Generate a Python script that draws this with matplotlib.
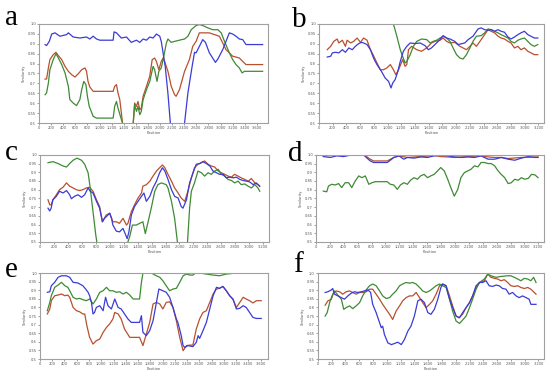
import numpy as np
import matplotlib
matplotlib.use("Agg")
import matplotlib.pyplot as plt
from matplotlib.ticker import FuncFormatter, MultipleLocator

# ---- panel a ----
a_blue_x = [100, 125, 170, 210, 265, 345, 455, 485, 565, 675, 785, 840, 895, 950, 1005, 1225, 1240, 1280, 1360, 1445,
            1525, 1610, 1665, 1720, 1775, 1830, 1885, 1940, 1995, 2020, 2050, 2085, 2130, 2170, 2185, 2375, 2405, 2460,
            2530, 2570, 2595, 2650, 2705, 2750, 2815, 2915, 2955, 3035, 3145, 3200, 3255, 3310, 3365, 3420, 3695]
a_blue_y = [0.896, 0.891, 0.912, 0.949, 0.955, 0.938, 0.946, 0.955, 0.934, 0.929, 0.934, 0.924, 0.938, 0.924, 0.918,
            0.918, 0.96, 0.955, 0.929, 0.934, 0.907, 0.918, 0.907, 0.924, 0.918, 0.934, 0.929, 0.949, 0.938, 0.912,
            0.854, 0.786, 0.65, 0.5, 0.45, 0.45, 0.5, 0.652, 0.786, 0.857, 0.854, 0.887, 0.921, 0.907, 0.854, 0.806,
            0.823, 0.87, 0.955, 0.949, 0.938, 0.924, 0.921, 0.896, 0.896]
a_red_x = [100, 125, 155, 180, 235, 280, 320, 375, 430, 485, 540, 595, 650, 705, 760, 785, 810, 840, 895, 950, 1225,
           1250, 1280, 1305, 1335, 1380, 1415, 1545, 1580, 1610, 1635, 1665, 1690, 1720, 1775, 1830, 1870, 1910, 1940,
           1980, 2020, 2050, 2075, 2130, 2185, 2240, 2265, 2320, 2405, 2485, 2540, 2595, 2650, 2705, 2815, 2870, 2980,
           3035, 3090, 3145, 3200, 3255, 3310, 3365, 3420, 3695]
a_red_y = [0.722, 0.722, 0.778, 0.82, 0.845, 0.857, 0.84, 0.82, 0.786, 0.761, 0.744, 0.732, 0.749, 0.769, 0.778,
           0.761, 0.71, 0.682, 0.66, 0.66, 0.66, 0.685, 0.694, 0.652, 0.618, 0.5, 0.45, 0.45, 0.601, 0.584, 0.609,
           0.567, 0.576, 0.635, 0.685, 0.736, 0.82, 0.828, 0.811, 0.769, 0.811, 0.828, 0.811, 0.761, 0.685, 0.643,
           0.635, 0.668, 0.761, 0.82, 0.887, 0.912, 0.955, 0.955, 0.955, 0.949, 0.938, 0.904, 0.87, 0.854, 0.837,
           0.833, 0.828, 0.811, 0.795, 0.795]
a_green_x = [100, 125, 155, 180, 235, 280, 320, 375, 430, 485, 510, 565, 620, 675, 705, 740, 775, 800, 830, 895, 950,
             1225, 1250, 1280, 1305, 1345, 1380, 1415, 1545, 1580, 1610, 1635, 1665, 1690, 1720, 1775, 1830, 1885,
             1910, 1950, 1980, 2020, 2050, 2105, 2130, 2185, 2240, 2320, 2405, 2460, 2515, 2595, 2650, 2705, 2790,
             2870, 2955, 3010, 3065, 3145, 3200, 3255, 3310, 3355, 3395, 3695]
a_green_y = [0.643, 0.652, 0.702, 0.769, 0.82, 0.85, 0.828, 0.795, 0.753, 0.685, 0.618, 0.601, 0.588, 0.618, 0.668,
             0.71, 0.694, 0.635, 0.584, 0.534, 0.525, 0.525, 0.584, 0.609, 0.576, 0.534, 0.5, 0.45, 0.45, 0.593,
             0.559, 0.584, 0.542, 0.559, 0.618, 0.668, 0.71, 0.786, 0.769, 0.71, 0.761, 0.778, 0.82, 0.904, 0.924,
             0.907, 0.912, 0.918, 0.924, 0.938, 0.971, 0.992, 0.997, 0.992, 0.98, 0.971, 0.971, 0.955, 0.912, 0.854,
             0.82, 0.795, 0.778, 0.753, 0.761, 0.761]

# ---- panel b ----
b_blue_x = [120, 170, 195, 240, 290, 340, 385, 435, 485, 530, 580, 620, 650, 700, 750, 795, 845, 910, 965, 1015,
            1050, 1075, 1110, 1150, 1185, 1230, 1280, 1330, 1400, 1475, 1545, 1595, 1640, 1690, 1765, 1810, 1860,
            1910, 1980, 2030, 2125, 2175, 2245, 2320, 2365, 2415, 2465, 2510, 2560, 2610, 2655, 2705, 2755, 2800,
            2850, 2900, 2945, 2995, 3045, 3090, 3140, 3190]
b_blue_y = [0.833, 0.837, 0.854, 0.857, 0.854, 0.87, 0.857, 0.879, 0.87, 0.887, 0.901, 0.907, 0.904, 0.896, 0.87,
            0.828, 0.795, 0.761, 0.727, 0.71, 0.677, 0.702, 0.719, 0.761, 0.811, 0.862, 0.887, 0.904, 0.901, 0.904,
            0.891, 0.87, 0.879, 0.896, 0.921, 0.941, 0.929, 0.924, 0.912, 0.896, 0.904, 0.921, 0.938, 0.975, 0.98,
            0.971, 0.968, 0.971, 0.963, 0.971, 0.963, 0.958, 0.934, 0.924, 0.934, 0.946, 0.955, 0.963, 0.946, 0.938,
            0.929, 0.929]
b_red_x = [120, 170, 215, 265, 290, 340, 385, 410, 460, 505, 555, 605, 650, 700, 750, 795, 845, 895, 940, 990, 1040,
           1085, 1120, 1160, 1200, 1220, 1255, 1280, 1305, 1350, 1425, 1495, 1570, 1640, 1690, 1765, 1810, 1860,
           1910, 1980, 2055, 2100, 2150, 2200, 2245, 2295, 2365, 2415, 2465, 2510, 2560, 2610, 2655, 2705, 2755,
           2800, 2850, 2900, 2945, 2995, 3045, 3090, 3140, 3190]
b_red_y = [0.87, 0.887, 0.912, 0.924, 0.904, 0.918, 0.887, 0.918, 0.904, 0.912, 0.929, 0.907, 0.929, 0.918, 0.87,
           0.84, 0.803, 0.769, 0.769, 0.778, 0.795, 0.769, 0.744, 0.769, 0.803, 0.82, 0.786, 0.795, 0.87, 0.887,
           0.87, 0.862, 0.879, 0.904, 0.912, 0.918, 0.929, 0.912, 0.904, 0.907, 0.887, 0.879, 0.87, 0.887, 0.904,
           0.887, 0.921, 0.946, 0.971, 0.963, 0.955, 0.938, 0.929, 0.924, 0.912, 0.904, 0.879, 0.887, 0.87, 0.879,
           0.862, 0.854, 0.845, 0.845]
b_green_x = [120, 1000, 1050, 1085, 1135, 1185, 1210, 1255, 1280, 1330, 1375, 1425, 1495, 1570, 1620, 1665, 1715,
             1765, 1810, 1860, 1910, 1955, 2005, 2055, 2100, 2150, 2200, 2245, 2295, 2365, 2415, 2465, 2510, 2560,
             2610, 2655, 2705, 2755, 2800, 2850, 2900, 2945, 2995, 3045, 3090, 3140, 3190]
b_green_y = [1.1, 1.1, 1.05, 1.0, 0.938, 0.87, 0.845, 0.803, 0.811, 0.845, 0.887, 0.912, 0.924, 0.921, 0.904, 0.912,
             0.918, 0.929, 0.938, 0.929, 0.912, 0.879, 0.845, 0.828, 0.823, 0.845, 0.879, 0.912, 0.938, 0.941, 0.955,
             0.975, 0.971, 0.963, 0.955, 0.946, 0.938, 0.929, 0.912, 0.904, 0.918, 0.924, 0.929, 0.912, 0.896, 0.887,
             0.896]

# ---- panel c ----
c_blue_x = [115, 140, 160, 185, 235, 280, 330, 380, 425, 450, 495, 545, 595, 640, 690, 720, 760, 810, 855, 895, 925,
            950, 1000, 1025, 1045, 1095, 1140, 1190, 1230, 1250, 1275, 1310, 1355, 1405, 1455, 1490, 1525, 1575,
            1620, 1670, 1715, 1755, 1790, 1835, 1885, 1930, 1980, 2025, 2050, 2100, 2145, 2195, 2240, 2290, 2335,
            2385, 2435, 2480, 2530, 2575, 2625, 2670, 2720, 2770, 2815, 2865, 2910, 2960, 3005, 3055, 3100, 3150]
c_blue_y = [0.694, 0.678, 0.694, 0.742, 0.762, 0.791, 0.781, 0.795, 0.771, 0.748, 0.762, 0.771, 0.756, 0.771, 0.81,
            0.791, 0.781, 0.733, 0.694, 0.616, 0.636, 0.645, 0.665, 0.636, 0.597, 0.562, 0.558, 0.578, 0.539, 0.519,
            0.558, 0.655, 0.703, 0.733, 0.762, 0.781, 0.733, 0.762, 0.81, 0.849, 0.897, 0.926, 0.907, 0.859, 0.8,
            0.762, 0.752, 0.703, 0.694, 0.742, 0.839, 0.897, 0.946, 0.95, 0.961, 0.95, 0.936, 0.907, 0.897, 0.888,
            0.888, 0.868, 0.872, 0.868, 0.872, 0.859, 0.853, 0.849, 0.845, 0.829, 0.839, 0.82]
c_red_x = [115, 140, 160, 185, 235, 280, 330, 380, 425, 475, 520, 570, 615, 665, 710, 760, 810, 855, 895, 950, 1000,
           1045, 1095, 1140, 1190, 1240, 1260, 1310, 1355, 1405, 1455, 1475, 1525, 1575, 1620, 1670, 1715, 1755,
           1790, 1835, 1885, 1930, 1980, 2025, 2075, 2120, 2170, 2215, 2265, 2315, 2360, 2410, 2455, 2505, 2555,
           2600, 2650, 2695, 2745, 2790, 2840, 2885, 2935, 2985, 3030, 3080, 3125, 3150]
c_red_y = [0.742, 0.713, 0.713, 0.742, 0.771, 0.8, 0.814, 0.839, 0.82, 0.81, 0.8, 0.795, 0.8, 0.81, 0.814, 0.791,
           0.742, 0.703, 0.616, 0.655, 0.665, 0.616, 0.616, 0.607, 0.636, 0.597, 0.607, 0.674, 0.713, 0.752, 0.781,
           0.82, 0.829, 0.849, 0.878, 0.907, 0.926, 0.942, 0.926, 0.888, 0.849, 0.81, 0.781, 0.752, 0.733, 0.791,
           0.868, 0.926, 0.946, 0.955, 0.965, 0.946, 0.936, 0.93, 0.907, 0.897, 0.888, 0.878, 0.872, 0.888, 0.878,
           0.868, 0.859, 0.849, 0.864, 0.839, 0.829, 0.82]
c_green_x = [115, 185, 260, 330, 380, 425, 475, 530, 595, 640, 690, 720, 760, 800, 815, 830, 1240, 1260, 1285, 1325,
             1380, 1430, 1475, 1510, 1550, 1595, 1645, 1690, 1740, 1810, 1835, 1885, 1930, 1970, 2005, 2100, 2115,
             2145, 2170, 2215, 2265, 2315, 2360, 2410, 2455, 2505, 2555, 2600, 2650, 2695, 2745, 2790, 2840, 2885,
             2935, 2985, 3030, 3080, 3125, 3150]
c_green_y = [0.955, 0.961, 0.95, 0.936, 0.93, 0.95, 0.969, 0.981, 0.969, 0.946, 0.897, 0.81, 0.674, 0.539, 0.5,
             0.45, 0.45, 0.5, 0.529, 0.597, 0.597, 0.607, 0.616, 0.548, 0.616, 0.694, 0.791, 0.829, 0.839, 0.829,
             0.81, 0.733, 0.636, 0.5, 0.45, 0.45, 0.5, 0.694, 0.791, 0.839, 0.907, 0.897, 0.878, 0.897, 0.888, 0.907,
             0.917, 0.888, 0.878, 0.859, 0.853, 0.839, 0.849, 0.829, 0.833, 0.82, 0.81, 0.829, 0.81, 0.791]

# ---- panel d ----
d_blue_x = [105, 205, 300, 395, 495, 540, 685, 735, 780, 830, 925, 1025, 1070, 1120, 1145, 1195, 1240, 1265, 1315,
            1410, 1505, 1605, 1700, 1795, 1895, 1990, 2085, 2185, 2280, 2375, 2475, 2570, 2665, 2765, 2860, 2955,
            3055, 3150, 3195]
d_blue_y = [0.99, 0.985, 0.994, 0.99, 0.998, 1.0, 1.0, 0.981, 0.965, 0.956, 0.956, 0.956, 0.969, 0.985, 0.988,
            0.994, 0.981, 0.975, 0.985, 0.981, 0.988, 0.985, 0.994, 0.998, 0.994, 0.988, 0.985, 0.988, 0.985, 0.994,
            0.975, 0.975, 0.985, 0.975, 0.969, 0.981, 0.99, 0.985, 0.985]
d_red_x = [105, 300, 540, 685, 735, 780, 830, 1025, 1120, 1195, 1315, 1505, 1700, 1795, 1895, 1990, 2185, 2375, 2475,
           2570, 2665, 2765, 2955, 3195]
d_red_y = [0.994, 0.998, 1.0, 1.0, 0.988, 0.975, 0.965, 0.965, 0.985, 0.994, 0.985, 0.99, 0.996, 0.99, 0.988, 0.985,
           0.99, 0.994, 0.988, 0.985, 0.985, 0.979, 0.985, 0.988]
d_green_x = [105, 155, 180, 225, 275, 325, 370, 420, 470, 515, 565, 615, 660, 710, 760, 805, 855, 925, 1025, 1070,
             1120, 1170, 1215, 1265, 1315, 1360, 1410, 1460, 1505, 1555, 1605, 1650, 1700, 1750, 1795, 1845, 1895,
             1940, 1990, 2040, 2085, 2135, 2185, 2230, 2280, 2330, 2375, 2425, 2475, 2520, 2570, 2620, 2665, 2715,
             2765, 2810, 2860, 2910, 2955, 3005, 3055, 3100, 3150, 3195]
d_green_y = [0.792, 0.788, 0.821, 0.831, 0.827, 0.835, 0.812, 0.84, 0.84, 0.812, 0.85, 0.879, 0.869, 0.879, 0.831,
             0.84, 0.846, 0.846, 0.846, 0.831, 0.827, 0.802, 0.827, 0.84, 0.831, 0.854, 0.869, 0.86, 0.879, 0.888,
             0.869, 0.879, 0.888, 0.908, 0.927, 0.908, 0.86, 0.812, 0.763, 0.802, 0.869, 0.898, 0.908, 0.917, 0.937,
             0.931, 0.956, 0.956, 0.95, 0.95, 0.937, 0.908, 0.888, 0.869, 0.835, 0.84, 0.86, 0.854, 0.869, 0.86,
             0.865, 0.888, 0.885, 0.869]

# ---- panel e ----
e_blue_x = [120, 160, 185, 240, 295, 350, 430, 485, 540, 620, 700, 745, 785, 810, 840, 865, 890, 920, 975, 1030,
            1070, 1110, 1165, 1220, 1275, 1325, 1380, 1435, 1490, 1570, 1625, 1655, 1680, 1735, 1790, 1845, 1900,
            1940, 2005, 2060, 2115, 2170, 2225, 2250, 2305, 2335, 2360, 2415, 2495, 2550, 2580, 2605, 2660, 2715,
            2770, 2825, 2880, 2930, 2985, 3040, 3095, 3150, 3205, 3260, 3315, 3365, 3420, 3475, 3530, 3610]
e_blue_y = [0.888, 0.891, 0.926, 0.946, 0.975, 0.984, 0.984, 0.975, 0.946, 0.942, 0.926, 0.907, 0.888, 0.868, 0.829,
            0.762, 0.771, 0.8, 0.81, 0.781, 0.859, 0.81, 0.791, 0.849, 0.8, 0.791, 0.762, 0.733, 0.713, 0.713, 0.713,
            0.752, 0.655, 0.636, 0.665, 0.723, 0.829, 0.907, 0.897, 0.888, 0.859, 0.8, 0.733, 0.713, 0.636, 0.578,
            0.568, 0.578, 0.572, 0.597, 0.636, 0.62, 0.665, 0.713, 0.791, 0.868, 0.917, 0.911, 0.922, 0.897, 0.868,
            0.849, 0.791, 0.795, 0.81, 0.8, 0.771, 0.742, 0.736, 0.736]
e_red_x = [120, 160, 185, 240, 295, 350, 405, 455, 485, 540, 595, 645, 700, 730, 765, 810, 865, 920, 975, 1030, 1085,
           1135, 1190, 1220, 1275, 1325, 1380, 1465, 1625, 1680, 1735, 1790, 1845, 1900, 1955, 2005, 2060, 2115,
           2170, 2225, 2280, 2335, 2390, 2445, 2495, 2550, 2605, 2660, 2715, 2770, 2825, 2880, 2930, 2985, 3040,
           3095, 3150, 3205, 3260, 3315, 3365, 3420, 3475, 3530, 3610]
e_red_y = [0.762, 0.791, 0.839, 0.868, 0.872, 0.878, 0.868, 0.872, 0.859, 0.8, 0.781, 0.775, 0.762, 0.762, 0.694,
           0.626, 0.587, 0.607, 0.616, 0.655, 0.684, 0.703, 0.733, 0.771, 0.762, 0.733, 0.674, 0.626, 0.626, 0.578,
           0.645, 0.713, 0.82, 0.829, 0.82, 0.791, 0.829, 0.833, 0.8, 0.723, 0.626, 0.548, 0.578, 0.581, 0.581,
           0.674, 0.733, 0.771, 0.781, 0.829, 0.878, 0.907, 0.911, 0.922, 0.897, 0.868, 0.845, 0.8, 0.829, 0.859,
           0.849, 0.839, 0.826, 0.839, 0.839]
e_green_x = [120, 160, 185, 240, 295, 350, 405, 455, 485, 540, 595, 645, 700, 755, 810, 865, 920, 975, 1030, 1085,
             1135, 1190, 1245, 1300, 1355, 1410, 1465, 1520, 1570, 1625, 1655, 1680, 1710, 1800, 1845, 1900, 1955,
             2005, 2060, 2115, 2170, 2225, 2280, 2335, 2390, 2445, 2495, 2550, 2605, 2715, 2825, 2930, 3040, 3150,
             3260, 3610]
e_green_y = [0.781, 0.829, 0.868, 0.917, 0.93, 0.946, 0.926, 0.917, 0.897, 0.859, 0.849, 0.853, 0.845, 0.839, 0.849,
             0.82, 0.849, 0.888, 0.897, 0.917, 0.897, 0.897, 0.888, 0.891, 0.878, 0.888, 0.872, 0.849, 0.849, 0.849,
             0.946, 1.0, 1.023, 1.01, 0.994, 0.984, 0.975, 0.955, 0.926, 0.897, 0.907, 0.911, 0.946, 0.984, 0.994,
             0.988, 0.988, 1.004, 1.0, 0.994, 0.988, 0.984, 0.994, 0.998, 1.014, 1.023]

# ---- panel f ----
f_blue_x = [105, 145, 195, 215, 240, 290, 340, 385, 435, 485, 530, 580, 630, 675, 725, 765, 795, 845, 895, 920, 940,
            965, 1015, 1065, 1110, 1160, 1210, 1255, 1305, 1350, 1400, 1450, 1495, 1545, 1595, 1640, 1690, 1740,
            1785, 1810, 1860, 1910, 1955, 2005, 2055, 2100, 2150, 2200, 2245, 2295, 2345, 2390, 2440, 2485, 2535,
            2585, 2630, 2680, 2730, 2775, 2825, 2875, 2920, 2970, 3020, 3065, 3090, 3130, 3165]
f_blue_y = [0.887, 0.891, 0.902, 0.91, 0.877, 0.867, 0.857, 0.848, 0.867, 0.883, 0.891, 0.887, 0.891, 0.896, 0.902,
            0.887, 0.818, 0.77, 0.711, 0.682, 0.691, 0.643, 0.594, 0.584, 0.59, 0.598, 0.584, 0.613, 0.662, 0.691,
            0.75, 0.838, 0.848, 0.828, 0.77, 0.76, 0.789, 0.848, 0.916, 0.936, 0.926, 0.848, 0.799, 0.75, 0.74, 0.77,
            0.799, 0.828, 0.867, 0.926, 0.945, 0.945, 0.955, 0.926, 0.922, 0.93, 0.926, 0.91, 0.906, 0.877, 0.887,
            0.867, 0.857, 0.867, 0.857, 0.848, 0.818, 0.818, 0.818]
f_red_x = [105, 145, 195, 230, 265, 315, 360, 410, 460, 505, 555, 605, 650, 700, 750, 795, 845, 895, 940, 990, 1040,
           1085, 1135, 1185, 1230, 1280, 1330, 1375, 1425, 1475, 1520, 1570, 1620, 1665, 1715, 1765, 1810, 1860,
           1910, 1955, 2005, 2045, 2100, 2150, 2200, 2245, 2295, 2345, 2415, 2465, 2510, 2560, 2610, 2655, 2705,
           2755, 2800, 2850, 2900, 2945, 2995, 3045, 3090, 3165]
f_red_y = [0.813, 0.838, 0.848, 0.887, 0.896, 0.891, 0.877, 0.891, 0.896, 0.887, 0.877, 0.887, 0.887, 0.891, 0.906,
           0.906, 0.877, 0.848, 0.818, 0.789, 0.76, 0.73, 0.779, 0.809, 0.838, 0.857, 0.867, 0.867, 0.887, 0.857,
           0.828, 0.799, 0.818, 0.838, 0.877, 0.926, 0.936, 0.926, 0.867, 0.809, 0.75, 0.74, 0.76, 0.799, 0.828,
           0.867, 0.916, 0.945, 0.955, 0.994, 0.975, 0.969, 0.965, 0.955, 0.961, 0.945, 0.926, 0.922, 0.926, 0.916,
           0.91, 0.916, 0.906, 0.877]
f_green_x = [105, 135, 170, 205, 240, 290, 340, 375, 410, 460, 505, 555, 605, 650, 700, 750, 795, 845, 895, 940, 990,
             1040, 1085, 1135, 1185, 1230, 1280, 1330, 1375, 1425, 1475, 1520, 1570, 1620, 1665, 1715, 1765, 1810,
             1860, 1910, 1955, 2005, 2055, 2100, 2150, 2200, 2245, 2295, 2345, 2415, 2465, 2510, 2585, 2655, 2755,
             2800, 2850, 2900, 2945, 2995, 3045, 3090, 3130, 3165]
f_green_y = [0.75, 0.77, 0.828, 0.867, 0.896, 0.871, 0.848, 0.789, 0.799, 0.809, 0.793, 0.809, 0.828, 0.867, 0.902,
             0.926, 0.936, 0.926, 0.896, 0.867, 0.852, 0.857, 0.877, 0.896, 0.926, 0.936, 0.945, 0.941, 0.945, 0.936,
             0.916, 0.896, 0.887, 0.896, 0.91, 0.926, 0.936, 0.926, 0.916, 0.848, 0.779, 0.721, 0.707, 0.727, 0.75,
             0.799, 0.848, 0.906, 0.945, 0.965, 0.994, 0.984, 0.975, 0.98, 0.984, 0.984, 0.975, 0.965, 0.955, 0.969,
             0.965, 0.955, 0.975, 0.945]

y_ticks = [0.5, 0.55, 0.6, 0.65, 0.7, 0.75, 0.8, 0.85, 0.9, 0.95, 1.0]
y_tick_labels = ["0.5", "0.55", "0.6", "0.65", "0.7", "0.75", "0.8", "0.85", "0.9", "0.95", "1.0"]

BLUE = "#3b3bd6"
RED = "#b8502e"
GREEN = "#3f8a35"
FRAME = "#a0a0a0"

panels = [
    ("a", [0.0709, 0.671, 0.416, 0.265], 3780, 3600, (a_red_x, a_red_y), (a_green_x, a_green_y), (a_blue_x, a_blue_y), (0.009, 0.933)),
    ("b", [0.580, 0.671, 0.409, 0.265], 3280, 3200, (b_red_x, b_red_y), (b_green_x, b_green_y), (b_blue_x, b_blue_y), (0.531, 0.928)),
    ("c", [0.0727, 0.353, 0.416, 0.233], 3280, 3200, (c_red_x, c_red_y), (c_green_x, c_green_y), (c_blue_x, c_blue_y), (0.009, 0.572)),
    ("d", [0.5745, 0.353, 0.4145, 0.233], 3280, 3200, (d_red_x, d_red_y), (d_green_x, d_green_y), (d_blue_x, d_blue_y), (0.524, 0.570)),
    ("e", [0.0727, 0.040, 0.4145, 0.230], 3720, 3600, (e_red_x, e_red_y), (e_green_x, e_green_y), (e_blue_x, e_blue_y), (0.009, 0.259)),
    ("f", [0.578, 0.040, 0.411, 0.230], 3280, 3200, (f_red_x, f_red_y), (f_green_x, f_green_y), (f_blue_x, f_blue_y), (0.533, 0.273)),
]

fig = plt.figure(figsize=(5.5, 3.74), dpi=100)

for letter, rect, xmax, last_tick, red, green, blue, lab in panels:
    ax = fig.add_axes(rect)
    ax.plot(*red, color=RED, lw=0.9)
    ax.plot(*green, color=GREEN, lw=0.9)
    ax.plot(*blue, color=BLUE, lw=0.9)
    ax.set_xlim(0, xmax)
    ax.set_ylim(0.5, 1.0)
    ax.set_xticks(np.arange(0, last_tick + 1, 200))
    ax.xaxis.set_major_formatter(FuncFormatter(lambda v, p: f"{int(v):,}"))
    ax.set_yticks(y_ticks)
    ax.set_yticklabels(y_tick_labels)
    ax.tick_params(labelsize=2.6, length=1.2, width=0.4, pad=1, colors="#555555")
    for s in ax.spines.values():
        s.set_color(FRAME)
        s.set_linewidth(0.8)
    ax.set_xlabel("Position", fontsize=2.6, labelpad=0.5, color="#555555")
    ax.set_ylabel("Similarity", fontsize=2.6, labelpad=1.5, color="#555555")
    fig.text(lab[0], lab[1], letter, fontsize=21, family="Liberation Serif", va="baseline", ha="left")

fig.savefig("out.png", dpi=100)
